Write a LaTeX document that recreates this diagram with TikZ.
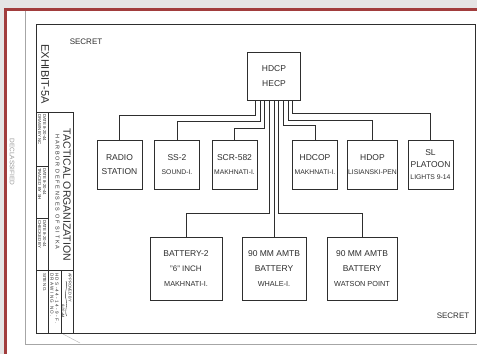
\documentclass[tikz,border=0pt]{standalone}
\usepackage{fontspec}
\setmainfont{Liberation Sans}
\newfontfamily\spacedfont{Liberation Sans}[LetterSpace=30]
\definecolor{inkgray}{rgb}{0.18,0.18,0.18}
\definecolor{scanred}{rgb}{0.63,0.24,0.24}
\definecolor{scangray}{rgb}{0.9,0.9,0.9}
\newcommand{\subline}[1]{{\fontsize{6.8}{14}\selectfont #1}}
\newcommand{\batline}[1]{{\fontsize{7.3}{15}\selectfont #1}}

\begin{document}
\begin{tikzpicture}[x=1pt,y=-1pt,
  unit/.style={draw=inkgray,line width=0.8pt,minimum width=45pt,minimum height=49pt,align=center,inner sep=1pt,text=inkgray,font=\fontsize{8.5}{14}\selectfont},
  battery/.style={unit,minimum height=63pt,font=\fontsize{8.5}{15}\selectfont},
  link/.style={draw=inkgray,line width=0.7pt},
  tb/.style={rotate=-90,anchor=west,inner sep=0pt,text=inkgray,font=\fontsize{4.3}{5}\selectfont}]
\useasboundingbox (0,0) rectangle (477,354);
% scan background and border
\fill[white] (0,0) rectangle (477,354);
\fill[scangray] (0,0) rectangle (477,8);
\fill[scangray] (0,0) rectangle (4,354);
\fill[scanred] (4,8) rectangle (477,11);
\fill[scanred] (4,8) rectangle (7,354);
\draw[gray!70,line width=0.6pt] (25,11) -- (25,344) -- (477,344);
\draw[gray!60,line width=0.4pt] (63,334) -- (80,343);
\node[rotate=-90,text=gray!80,font=\fontsize{6.5}{8}\selectfont] (declass) at (12,162) {DECLASSIFIED};
% drawing frame and title block
\draw[inkgray,line width=0.9pt] (36,24) rectangle (475,333);
\draw[inkgray,line width=0.8pt] (36,112) -- (73,112) -- (73,333);
\draw[inkgray,line width=0.7pt] (48,112) -- (48,333);
\draw[inkgray,line width=0.7pt] (36,166) -- (48,166) (36,218) -- (48,218) (36,270) -- (73,270) (61,270) -- (61,333);
\node[rotate=-90,text=inkgray,font=\fontsize{11}{13}\selectfont] (exhibit) at (45,74) {EXHIBIT-5A};
\node[rotate=-90,text=inkgray,font=\fontsize{10.5}{12}\selectfont] (title) at (67,195) {TACTICAL ORGANIZATION};
\node[rotate=-90,text=inkgray,font=\spacedfont\fontsize{5.5}{6}\selectfont] (subtitle) at (57.5,192) {HARBOR DEFENSES OF SITKA};
\node[tb] (drawn) at (39.5,114) {DRAWN BY NC};
\node[tb] (drawndate) at (44.5,114) {DATE 8-20-44};
\node[tb] (traced) at (39.5,168) {TRACED BY SH};
\node[tb] (traceddate) at (44.5,168) {DATE 8-20-44};
\node[tb] (checked) at (39.5,220) {CHECKED BY};
\node[tb] (checkeddate) at (44.5,220) {DATE 8-20-44};
\node[tb] (site) at (44.5,273) {SITE NO.};
\node[tb,font=\spacedfont\fontsize{4.6}{5}\selectfont] (drawingno) at (52,273) {DRAWING NO.};
\node[tb,font=\spacedfont\fontsize{4.6}{5}\selectfont] (hds) at (57,273) {HDS-44-14-9-F.};
\node[tb,font=\fontsize{4}{5}\selectfont] (approved) at (70,273) {APPROVED BY};
\node[tb,font=\itshape\fontsize{4}{5}\selectfont] (approvdate) at (63,304) {8-20-44};
\draw[inkgray,line width=0.4pt] (66,281) .. controls (68.5,288) and (63.5,292) .. (66,299) .. controls (68.5,305) and (64,309) .. (66.5,316);
% secrecy marks
\node[text=inkgray,font=\fontsize{8}{10}\selectfont] (secrettop) at (86,42) {SECRET};
\node[text=inkgray,font=\fontsize{8}{10}\selectfont] (secretbot) at (453,316) {SECRET};
% units
\node[unit,minimum width=53pt,minimum height=48pt,font=\fontsize{8.5}{15}\selectfont] (hdcp) at (274,76) {HDCP\\HECP};
\node[unit] (radio) at (119.5,164.5) {RADIO\\STATION};
\node[unit] (ss2) at (177,164.5) {SS-2\\\subline{SOUND-I.}};
\node[unit] (scr) at (234.5,164.5) {SCR-582\\\subline{MAKHNATI-I.}};
\node[unit] (hdcop) at (315,164.5) {HDCOP\\\subline{MAKHNATI-I.}};
\node[unit] (hdop) at (372.5,164.5) {HDOP\\\subline{LISIANSKI-PEN}};
\node[unit,font=\fontsize{8.5}{12}\selectfont] (sl) at (430.5,164.5) {SL\\PLATOON\\{\fontsize{6.8}{12}\selectfont LIGHTS 9-14}};
\node[battery,minimum width=72pt] (bat2) at (186,268.5) {BATTERY-2\\{\fontsize{8}{15}\selectfont "6" INCH}\\\batline{MAKHNATI-I.}};
\node[battery,minimum width=64pt] (whale) at (274,268.5) {90 MM AMTB\\BATTERY\\\batline{WHALE-I.}};
\node[battery,minimum width=70pt] (watson) at (362,268.5) {90 MM AMTB\\BATTERY\\\batline{WATSON POINT}};
% command lines
\draw[link] ([xshift=-18.5pt]hdcp.south) -- ++(0,15) -| (radio.north);
\draw[link] ([xshift=-14pt]hdcp.south) -- ++(0,21) -| (ss2.north);
\draw[link] ([xshift=-9.5pt]hdcp.south) -- ++(0,28) -| (scr.north);
\draw[link] ([xshift=-5pt]hdcp.south) -- ++(0,113) -| (bat2.north);
\draw[link] (hdcp.south) -- (whale.north);
\draw[link] ([xshift=4.5pt]hdcp.south) -- ++(0,113) -| (watson.north);
\draw[link] ([xshift=9pt]hdcp.south) -- ++(0,25) -| (hdcop.north);
\draw[link] ([xshift=14pt]hdcp.south) -- ++(0,20) -| (hdop.north);
\draw[link] ([xshift=18.5pt]hdcp.south) -- ++(0,13) -| (sl.north);
\end{tikzpicture}
\end{document}
